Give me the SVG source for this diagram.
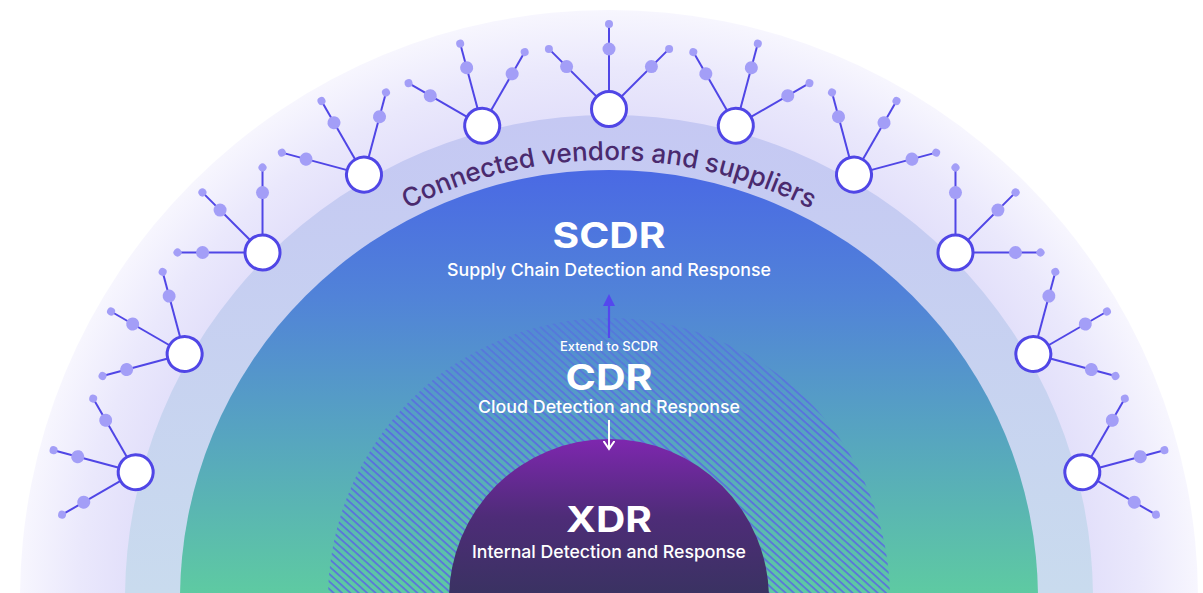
<svg xmlns="http://www.w3.org/2000/svg" xmlns:xlink="http://www.w3.org/1999/xlink" width="1203" height="593" viewBox="0 0 1203 593">
  <defs>
    <radialGradient id="gOuter" gradientUnits="userSpaceOnUse" cx="609" cy="599" r="589">
      <stop offset="0.80" stop-color="#e1defa"/>
      <stop offset="0.90" stop-color="#eae8fc"/>
      <stop offset="1" stop-color="#f7f6fe"/>
    </radialGradient>
    <linearGradient id="gMid" gradientUnits="userSpaceOnUse" x1="0" y1="115" x2="0" y2="593">
      <stop offset="0" stop-color="#c5c8f3"/>
      <stop offset="1" stop-color="#c9dbee"/>
    </linearGradient>
    <linearGradient id="gMain" gradientUnits="userSpaceOnUse" x1="0" y1="170" x2="0" y2="593">
      <stop offset="0" stop-color="#4a69e4"/>
      <stop offset="0.3" stop-color="#5183d8"/>
      <stop offset="0.6" stop-color="#56a2c2"/>
      <stop offset="1" stop-color="#5ecaa2"/>
    </linearGradient>
    <linearGradient id="gXdr" gradientUnits="userSpaceOnUse" x1="0" y1="440" x2="0" y2="593">
      <stop offset="0" stop-color="#7d27ae"/>
      <stop offset="0.5" stop-color="#4e2c78"/>
      <stop offset="1" stop-color="#3a3262"/>
    </linearGradient>
    <pattern id="hatch" patternUnits="userSpaceOnUse" width="5.6" height="10" patternTransform="rotate(-48)">
      <line x1="1" y1="0" x2="1" y2="10" stroke="#5a5fe8" stroke-width="1.4"/>
    </pattern>
    <linearGradient id="gFade" gradientUnits="userSpaceOnUse" x1="0" y1="318" x2="0" y2="430">
      <stop offset="0" stop-color="#fff" stop-opacity="0.5"/>
      <stop offset="1" stop-color="#fff" stop-opacity="1"/>
    </linearGradient>
    <mask id="hatchMask" maskUnits="userSpaceOnUse" x="0" y="0" width="1203" height="593">
      <rect x="0" y="0" width="1203" height="593" fill="url(#gFade)"/>
    </mask>
    <marker id="headBlue" markerWidth="12" markerHeight="12" refX="6" refY="6" orient="auto" markerUnits="userSpaceOnUse">
      <path d="M0,0 L12,6 L0,12 Z" fill="#5448ee"/>
    </marker>
    <marker id="headWhite" markerWidth="10" markerHeight="12" refX="7" refY="6" orient="auto" markerUnits="userSpaceOnUse">
      <path d="M0,0.5 L8,6 L0,11.5" fill="none" stroke="#ffffff" stroke-width="2"/>
    </marker>
    <path id="arcText" d="M 228.82 379.5 A 439 439 0 0 1 989.18 379.5"/>
    <filter id="glow" x="-3" y="-1" width="7" height="3">
      <feGaussianBlur stdDeviation="5"/>
    </filter>
    <style>
      .spoke { stroke: #5046e6; stroke-width: 2; }
      .dotM { fill: #a39ef7; }
      .hub { fill: #ffffff; stroke: #5046e6; stroke-width: 3; }
      .title { font-family: Inter, "Liberation Sans", sans-serif; font-weight: 700; font-size: 35px; fill: #ffffff; text-anchor: middle; }
      .sub { font-family: Inter, "Liberation Sans", sans-serif; font-weight: 500; font-size: 17.5px; fill: #ffffff; text-anchor: middle; }
      .small { font-family: Inter, "Liberation Sans", sans-serif; font-weight: 500; font-size: 12.5px; fill: #ffffff; text-anchor: middle; }
      .arc { font-family: Inter, "Liberation Sans", sans-serif; font-weight: 500; font-size: 26px; fill: #4a2a6e; }
    </style>
    <g id="vendor">
      <line class="spoke" x1="609" y1="109" x2="609" y2="24"/>
      <line class="spoke" x1="609" y1="109" x2="548.9" y2="48.9"/>
      <line class="spoke" x1="609" y1="109" x2="669.1" y2="48.9"/>
      <circle class="dotM" cx="609" cy="49" r="6.5"/>
      <circle class="dotM" cx="609" cy="24" r="4"/>
      <circle class="dotM" cx="566.6" cy="66.6" r="6.5"/>
      <circle class="dotM" cx="548.9" cy="48.9" r="4"/>
      <circle class="dotM" cx="651.4" cy="66.6" r="6.5"/>
      <circle class="dotM" cx="669.1" cy="48.9" r="4"/>
      <circle class="hub" cx="609" cy="109" r="17.5"/>
    </g>
  </defs>

  <rect x="0" y="0" width="1203" height="593" fill="#ffffff"/>

  <g id="band-outer">
    <circle cx="609" cy="599" r="589" fill="url(#gOuter)"/>
  </g>
  <g id="band-vendors">
    <circle cx="609" cy="599" r="484" fill="url(#gMid)"/>
    <text class="arc"><textPath xlink:href="#arcText" href="#arcText" startOffset="50%" text-anchor="middle">Connected vendors and suppliers</textPath></text>
  </g>
  <g id="scdr">
    <circle cx="609" cy="599" r="429" fill="url(#gMain)"/>
    <text class="title" x="609" y="248" textLength="113" lengthAdjust="spacingAndGlyphs">SCDR</text>
    <text class="sub" x="609" y="276" textLength="324" lengthAdjust="spacingAndGlyphs">Supply Chain Detection and Response</text>
  </g>
  <g id="cdr">
    <circle cx="609" cy="599" r="281" fill="url(#hatch)" mask="url(#hatchMask)"/>
    <text class="small" x="609" y="351" textLength="98" lengthAdjust="spacingAndGlyphs">Extend to SCDR</text>
    <text class="title" x="609" y="390" textLength="87" lengthAdjust="spacingAndGlyphs">CDR</text>
    <text class="sub" x="609" y="413" textLength="262" lengthAdjust="spacingAndGlyphs">Cloud Detection and Response</text>
  </g>
  <g id="xdr">
    <circle cx="609" cy="599" r="160" fill="url(#gXdr)"/>
    <text class="title" x="609" y="532" textLength="86" lengthAdjust="spacingAndGlyphs">XDR</text>
    <text class="sub" x="609" y="558" textLength="274" lengthAdjust="spacingAndGlyphs">Internal Detection and Response</text>
  </g>

  <g id="vendors">
    <g id="vendor-1"><use href="#vendor" transform="rotate(-75 609 599)"/></g>
    <g id="vendor-2"><use href="#vendor" transform="rotate(-60 609 599)"/></g>
    <g id="vendor-3"><use href="#vendor" transform="rotate(-45 609 599)"/></g>
    <g id="vendor-4"><use href="#vendor" transform="rotate(-30 609 599)"/></g>
    <g id="vendor-5"><use href="#vendor" transform="rotate(-15 609 599)"/></g>
    <g id="vendor-6"><use href="#vendor"/></g>
    <g id="vendor-7"><use href="#vendor" transform="rotate(15 609 599)"/></g>
    <g id="vendor-8"><use href="#vendor" transform="rotate(30 609 599)"/></g>
    <g id="vendor-9"><use href="#vendor" transform="rotate(45 609 599)"/></g>
    <g id="vendor-10"><use href="#vendor" transform="rotate(60 609 599)"/></g>
    <g id="vendor-11"><use href="#vendor" transform="rotate(75 609 599)"/></g>
  </g>

  <g id="connectors">
    <line x1="609" y1="338" x2="609" y2="300" stroke="#8fa4f2" stroke-width="8" opacity="0.35" filter="url(#glow)"/>
    <line x1="609" y1="338" x2="609" y2="300" stroke="#5448ee" stroke-width="2.2" marker-end="url(#headBlue)"/>
    <line x1="609" y1="420" x2="609" y2="448" stroke="#ffffff" stroke-width="2" marker-end="url(#headWhite)"/>
  </g>
</svg>
